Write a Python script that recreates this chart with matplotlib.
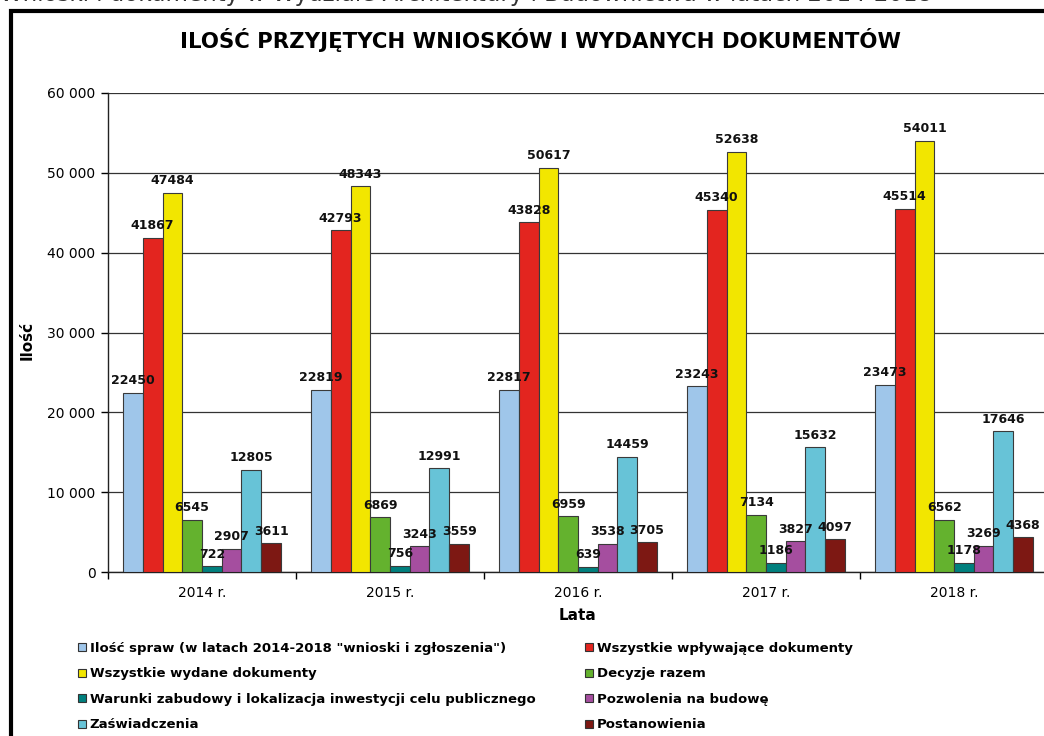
import matplotlib.pyplot as plt
import numpy as np
from matplotlib.patches import Rectangle, Patch
from matplotlib.ticker import FuncFormatter

# data
years = ['2014 r.', '2015 r.', '2016 r.', '2017 r.', '2018 r.']
series_names = [
    'Ilość spraw (w latach 2014-2018 "wnioski i zgłoszenia")',
    'Wszystkie wpływające dokumenty',
    'Wszystkie wydane dokumenty',
    'Decyzje razem',
    'Warunki zabudowy i lokalizacja inwestycji celu publicznego',
    'Pozwolenia na budowę',
    'Zaświadczenia',
    'Postanowienia',
]
ilosc_spraw = [22450, 22819, 22817, 23243, 23473]
wplywajace = [41867, 42793, 43828, 45340, 45514]
wydane = [47484, 48343, 50617, 52638, 54011]
decyzje = [6545, 6869, 6959, 7134, 6562]
warunki = [722, 756, 639, 1186, 1178]
pozwolenia = [2907, 3243, 3538, 3827, 3269]
zaswiadczenia = [12805, 12991, 14459, 15632, 17646]
postanowienia = [3611, 3559, 3705, 4097, 4368]

series = [ilosc_spraw, wplywajace, wydane, decyzje, warunki,
          pozwolenia, zaswiadczenia, postanowienia]
colors = ['#9fc6ea', '#e3251f', '#f2e600', '#64b22e', '#00807e',
          '#a54e9f', '#67c3d7', '#7d1813']

fig = plt.figure(figsize=(10.44, 7.36), dpi=100)

# outer frame of the original chart (cropped at right and bottom)
fig.patches.append(Rectangle((11 / 1044, -0.05), 1.1, 1 - 11 / 736 + 0.05,
                             transform=fig.transFigure, fill=False,
                             edgecolor='black', linewidth=3))
# caption above the frame, mostly cut off in the original
fig.text(0.0, 1 + 5 / 736, 'Wnioski i dokumenty w Wydziale Architektury i Budownictwa w latach 2014-2018',
         ha='left', va='center', fontsize=16.5, color='#333333')

ax = fig.add_axes([108 / 1044, 1 - 572 / 736, 940 / 1044, 479 / 736])

x = np.arange(len(years))
width = 0.105
n = len(series)
for i, (vals, col) in enumerate(zip(series, colors)):
    pos = x + (i - (n - 1) / 2) * width
    bars = ax.bar(pos, vals, width, color=col, edgecolor='#3a3a3a',
                  linewidth=0.8, zorder=3)
    ax.bar_label(bars, labels=[str(v) for v in vals], padding=4,
                 fontsize=9, fontweight='bold', color='#111111', zorder=4)

ax.set_xlim(-0.5, len(years) - 0.5)
ax.set_ylim(0, 60000)
ax.set_yticks(range(0, 60001, 10000))
ax.yaxis.set_major_formatter(FuncFormatter(lambda v, p: f'{int(v):,}'.replace(',', ' ')))
ax.grid(axis='y', color='#333333', linewidth=0.9, zorder=0)

ax.set_xticks(x)
ax.set_xticklabels(years, fontsize=10)
ax.set_xticks(np.arange(-0.5, len(years)), minor=True)
ax.tick_params(axis='x', which='major', length=0, pad=10)
ax.tick_params(axis='x', which='minor', length=5, width=1, direction='out')
ax.tick_params(axis='y', length=5, width=1, direction='out', labelsize=10, pad=4)

for s in ['top', 'right']:
    ax.spines[s].set_visible(False)
for s in ['left', 'bottom']:
    ax.spines[s].set_color('#222222')
    ax.spines[s].set_linewidth(1)

ax.set_xlabel('Lata', fontsize=11, fontweight='bold', labelpad=6)
fig.text(27 / 1044, 1 - 340 / 736, 'Ilość', rotation=90, ha='center', va='center',
         fontsize=11, fontweight='bold')

fig.text(541 / 1044, 1 - 40 / 736, 'ILOŚĆ PRZYJĘTYCH WNIOSKÓW I WYDANYCH DOKUMENTÓW',
         ha='center', va='center', fontsize=15.3, fontweight='bold')

# legend in two columns (reads row by row)
handles = [Patch(facecolor=c, edgecolor='#333333', linewidth=0.8) for c in colors]
leg_kw = dict(frameon=False, handlelength=0.6, handleheight=0.6, handletextpad=0.3,
              labelspacing=0.95, prop={'weight': 'bold', 'size': 9.5}, loc='upper left')
leg1 = fig.legend(handles[0::2], series_names[0::2],
                  bbox_to_anchor=(66 / 1044, 1 - 630 / 736), **leg_kw)
leg2 = fig.legend(handles[1::2], series_names[1::2],
                  bbox_to_anchor=(573 / 1044, 1 - 630 / 736), **leg_kw)

plt.savefig('out.png', dpi=100)
